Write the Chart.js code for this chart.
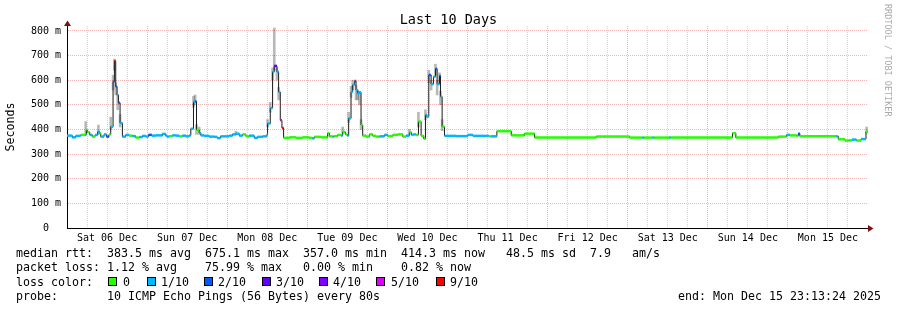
<!DOCTYPE html>
<html>
<head>
<meta charset="utf-8">
<script src="https://cdn.jsdelivr.net/npm/chart.js@4/dist/chart.umd.min.js"></script>
<style>
html,body{margin:0;padding:0;background:#fff;}
#wrap{position:relative;width:897px;height:310px;overflow:hidden;font-family:"DejaVu Sans Mono",monospace;color:#000;}
#c{position:absolute;left:0;top:0;}
.t{position:absolute;white-space:pre;font-size:11.63px;line-height:14px;}
#title{position:absolute;left:0;top:11px;width:897px;text-align:center;font-size:13.5px;line-height:16px;white-space:pre;}
#wm{position:absolute;left:883px;top:4px;writing-mode:vertical-rl;font-size:8.5px;line-height:10px;color:#aaa;white-space:pre;}
.box{position:absolute;width:9px;height:9px;box-sizing:border-box;border:1px solid #000;}
</style>
</head>
<body>
<div id="wrap">
<canvas id="c" width="897" height="310"></canvas>
<div id="title"></div>
<div id="wm"></div>
<div id="legend"></div>
</div>
<script>
// ---- data (hours since Sat 06 Dec 00:00, median RTT in ms, loss in tenths) ----
const hours = [0,1.6,2.6,4.1,5.4,5.8,6.1,6.8,7.6,8.4,9.2,9.7,10.1,11.1,11.8,12.6,13.1,13.8,14.2,14.6,15.0,15.4,15.9,16.6,17.6,18.6,19.6,20.6,21.6,22.6,23.6,24.4,25.4,26.6,28.6,29.6,30.0,30.6,31.6,32.6,33.6,34.6,35.6,36.6,37.1,37.9,38.4,38.8,39.6,40.1,41.1,42.6,44.1,45.0,46.0,47.1,48.6,49.6,50.6,51.6,52.6,53.6,54.6,56.1,57.1,58.6,59.9,60.1,60.9,61.6,62.1,62.9,63.4,63.9,64.4,64.9,66.6,68.6,70.6,72.6,73.5,74.1,76.1,78.1,78.6,79.6,80.1,81.1,82.1,82.6,83.4,84.0,84.4,85.1,85.6,86.2,86.6,87.1,87.6,88.1,88.6,89.6,90.6,91.6,92.6,93.6,95.1,96.1,97.6,99.1,100.6,101.6,102.6,103.2,103.8,104.6,105.3,106.1,106.9,107.4,107.8,108.4,109.1,109.8,110.4,110.9,111.6,111.9,112.4,113.1,116.6,120.1,121.6,126.4,127.0,128.8,133.1,137.1,140.1,158.6,168.6,172.4,172.9,175.4,175.9,180.4,180.9,199.4,200.4,213.1,215.6,216.6,218.6,219.1,219.6,230.4,230.9,231.1,233.1,234.4,235.2,236.5,237.9,239.4];
const medianMs = [375,368,374,378,379,398,389,378,371,378,391,385,371,380,371,380,411,594,678,574,540,508,426,371,378,375,373,367,369,374,371,378,375,376,382,374,371,373,376,375,372,375,372,376,403,512,514,398,386,376,374,371,370,365,372,372,375,380,383,375,380,372,375,366,370,372,380,424,487,634,658,634,552,437,406,366,368,366,368,366,364,370,368,385,372,371,373,378,375,390,380,375,445,553,581,597,560,547,551,418,375,371,380,374,371,372,378,373,378,380,371,375,388,378,380,378,432,374,362,459,452,621,584,614,646,584,618,533,411,374,373,378,374,372,372,393,376,383,367,371,367,367,367,367,367,367,367,385,367,371,378,376,374,383,372,372,372,360,355,356,359,355,361,392];
const lossTenths = [1,1,1,0,1,0,0,1,0,1,1,0,1,1,2,0,1,2,9,2,1,2,1,1,1,0,1,0,1,1,1,2,1,1,1,1,1,0,1,1,0,1,1,1,1,1,2,0,1,1,1,1,1,1,1,1,1,1,1,1,0,0,1,1,1,1,1,1,1,1,3,1,1,5,9,0,0,0,0,0,1,0,0,0,0,1,0,0,1,0,0,1,1,1,1,2,1,1,1,0,0,0,0,0,0,1,1,0,0,0,0,1,0,1,1,0,0,0,0,1,1,2,1,1,2,1,2,1,0,1,1,1,1,0,1,0,0,0,0,0,0,1,0,1,0,1,0,0,0,0,1,0,0,2,0,1,0,0,0,0,1,0,1,0,0];
// smoke (spread of the pings) where it is visible
const smokeHours = [5.6,9.4,13.1,13.8,14.2,14.6,15.2,15.9,37.9,38.4,38.8,39.6,50.6,60.1,60.9,61.6,62.1,62.9,63.4,82.6,84.4,85.1,85.6,86.6,87.1,87.6,88.1,102.6,105.3,107.4,108.4,109.1,110.4,110.9,111.6,111.9,112.4,239.6];
const smokeLow  = [385,380,400,560,640,540,480,410,490,500,380,380,378,410,470,600,640,600,520,385,430,530,560,520,520,500,400,380,410,440,590,560,620,540,590,500,395,385];
const smokeHigh = [432,418,450,620,685,590,540,460,535,540,420,410,393,440,510,650,812,650,570,410,470,575,600,580,560,555,440,400,470,480,640,600,665,600,630,555,440,410];
// axis labels
const dayLabels = ['Sat 06 Dec','Sun 07 Dec','Mon 08 Dec','Tue 09 Dec','Wed 10 Dec','Thu 11 Dec','Fri 12 Dec','Sat 13 Dec','Sun 14 Dec','Mon 15 Dec'];
const yTickValues = [0,50,100,150,200,250,300,350,400,450,500,550,600,650,700,750,800];
const lossLevels = [0,1,2,3,4,5,9];
const lossLabels = ['0','1/10','2/10','3/10','4/10','5/10','9/10'];
const lossColors = ['#26ff00','#00b8ff','#0059ff','#5e00ff','#7e00ff','#dd00ff','#ff0000'];
const titleText = 'Last 10 Days';
const yTitle = 'Seconds';
const watermark = 'RRDTOOL / TOBI OETIKER';
const statLines = [
  'median rtt:  383.5 ms avg  675.1 ms max  357.0 ms min  414.3 ms now   48.5 ms sd  7.9   am/s',
  'packet loss: 1.12 % avg    75.99 % max   0.00 % min    0.82 % now'
];
const probeLine = 'probe:       10 ICMP Echo Pings (56 Bytes) every 80s';
const endLine = 'end: Mon Dec 15 23:13:24 2025';

// ---- text ----
const MONO = '"DejaVu Sans Mono", monospace';
document.getElementById('title').textContent = titleText;
document.getElementById('wm').textContent = watermark;
const lg = document.getElementById('legend');
function addText(txt, x, y){ const d=document.createElement('div'); d.className='t'; d.style.left=x+'px'; d.style.top=y+'px'; d.textContent=txt; lg.appendChild(d); return d; }
addText(statLines[0], 16, 246);
addText(statLines[1], 16, 260.3);
addText('loss color:', 16, 274.6);
const boxX = [108,147,204,262,319,376,436];
const labX = [123,161,218,276,333,391,450];
lossLabels.forEach((l,i)=>{
  const b=document.createElement('div'); b.className='box'; b.style.left=boxX[i]+'px'; b.style.top='277px'; b.style.background=lossColors[i]; lg.appendChild(b);
  addText(l, labX[i], 274.6);
});
addText(probeLine, 16, 289);
addText(endLine, 678, 289);

// ---- chart ----
const colorFor = l => lossColors[Math.max(0, lossLevels.indexOf(l))];
const medianPts = hours.map((h,i)=>({x:h, y:medianMs[i]}));
medianPts.push({x:240, y:medianMs[medianMs.length-1]});
const segPts = [];
hours.forEach((h,i)=>{
  const x1 = i+1 < hours.length ? hours[i+1] : 240;
  segPts.push({x:h, y:medianMs[i]}, {x:x1, y:medianMs[i]}, {x:x1, y:null});
});
const smokePts = smokeHours.map((h,i)=>({x:h, y:[smokeLow[i], smokeHigh[i]]}));

const RED = 'rgba(228,90,90,0.45)';
const GREY = 'rgba(140,140,140,0.38)';
const NONE = 'rgba(0,0,0,0)';

const arrows = {
  id:'arrows',
  afterDraw(c){
    const {ctx, chartArea:a} = c;
    ctx.save();
    ctx.fillStyle = '#7f1010';
    ctx.beginPath();
    ctx.moveTo(a.left-3, a.top); ctx.lineTo(a.left+4, a.top); ctx.lineTo(a.left+0.5, a.top-5.5); ctx.closePath(); ctx.fill();
    ctx.beginPath();
    ctx.moveTo(a.right, a.bottom-3); ctx.lineTo(a.right, a.bottom+4); ctx.lineTo(a.right+5.5, a.bottom+0.5); ctx.closePath(); ctx.fill();
    ctx.restore();
  }
};

Chart.defaults.font.family = MONO;
new Chart(document.getElementById('c'), {
  type: 'line',
  data: {
    datasets: [
      { type:'bar', data: smokePts, backgroundColor:'rgba(0,0,0,0.28)', borderWidth:0, barThickness:2, grouped:false, order:3 },
      { type:'line', data: medianPts, borderColor:'#1a1a1a', borderWidth:1, stepped:'before', pointRadius:0, order:2 },
      { type:'line', data: segPts, borderColor:lossColors[0], borderWidth:2.5, borderCapStyle:'butt', pointRadius:0, spanGaps:false, order:1,
        segment:{ borderColor: ctx => colorFor(lossTenths[Math.floor(ctx.p0DataIndex/3)]) } }
    ]
  },
  options: {
    responsive:false, animation:false, devicePixelRatio:1,
    layout:{ padding:{ top:26, right:29, left:0, bottom:0 } },
    plugins:{ legend:{display:false}, tooltip:{enabled:false}, title:{display:false} },
    scales:{
      x:{
        type:'linear', min:0, max:240, offset:false,
        afterFit: s => { s.height = 82; },
        border:{ display:true, color:'#000', width:1, dash:[1,1] },
        grid:{ offset:false, drawTicks:false, lineWidth:1,
          color: ctx => { const v = ctx.tick ? ctx.tick.value : 1; return v >= 240 ? NONE : (v % 24 === 0 ? RED : GREY); } },
        ticks:{ stepSize:6, autoSkip:false, maxRotation:0, minRotation:0, padding:4, color:'#000',
          font:{ family:MONO, size:10 },
          callback: v => (v % 24 === 12) ? dayLabels[Math.floor(v/24)] : '' }
      },
      y:{
        min:0, max:820,
        afterFit: s => { s.width = 67; },
        afterBuildTicks: s => { s.ticks = yTickValues.map(v => ({value:v})); },
        border:{ display:true, color:'#000', width:1, dash:[1,1] },
        grid:{ drawTicks:false, lineWidth:1,
          color: ctx => { const v = ctx.tick ? ctx.tick.value : 1; return v % 100 === 0 ? RED : (v % 50 === 0 ? GREY : NONE); } },
        ticks:{ padding:6, color:'#000', font:{ family:MONO, size:10 },
          callback: v => v % 100 !== 0 ? '' : (v === 0 ? '0  ' : v + ' m') },
        title:{ display:true, text:yTitle, color:'#000', padding:{top:4,bottom:0}, font:{ family:MONO, size:11.63 } }
      }
    }
  },
  plugins:[arrows]
});
</script>
</body>
</html>
